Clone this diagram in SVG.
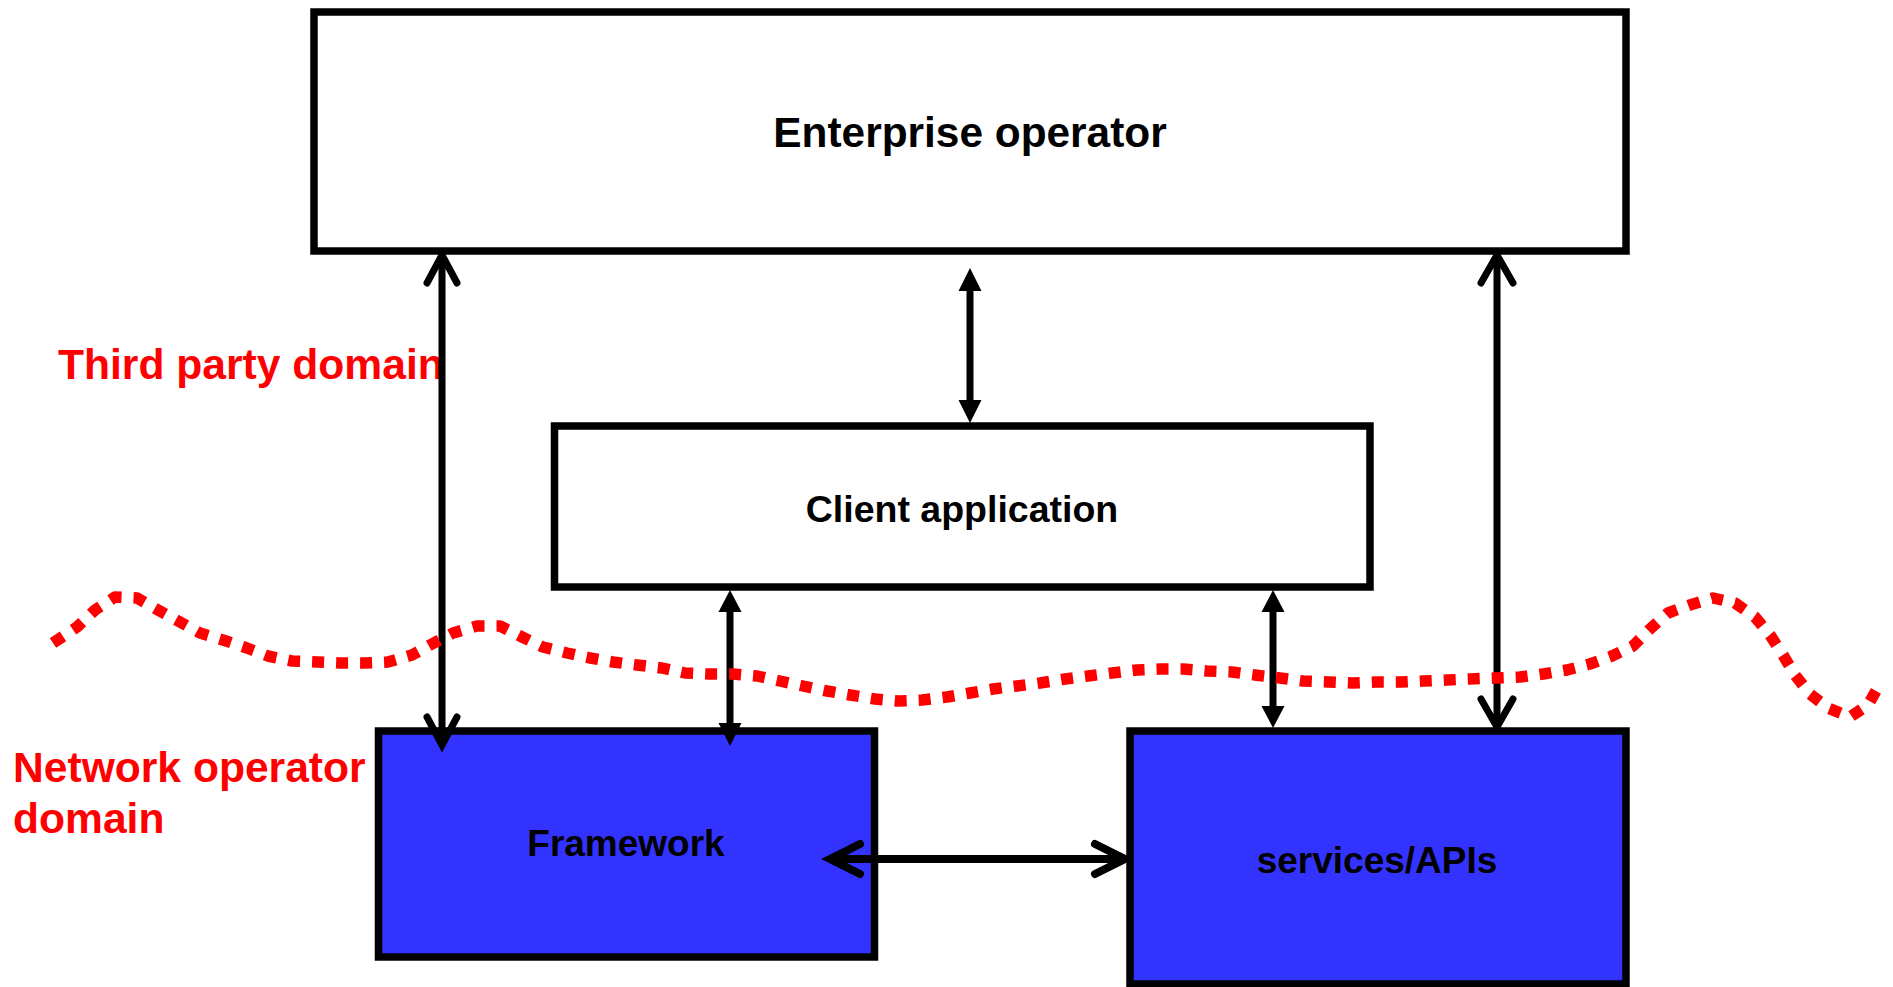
<svg xmlns="http://www.w3.org/2000/svg" width="1893" height="987" viewBox="0 0 1893 987">
<style>
.box{fill:#fff;stroke:#000;stroke-width:7.5}
.blue{fill:#3333FF;stroke:#000;stroke-width:7.5}
.lbl{font-family:"Liberation Sans",Arial,sans-serif;font-weight:bold;fill:#000;text-anchor:middle}
.red{font-family:"Liberation Sans",Arial,sans-serif;font-weight:bold;fill:#FF0000;font-size:42.6px}
.ln{stroke:#000;stroke-width:7;fill:none}
.open{stroke:#000;stroke-width:7;fill:none;stroke-linecap:round;stroke-linejoin:miter}
.tri{fill:#000;stroke:none}
.wave{fill:none;stroke:#FF0000;stroke-width:11.5;stroke-dasharray:12 12;stroke-linejoin:round}
</style>
<rect width="1893" height="987" fill="#fff"/>
<g id="enterprise">
<rect class="box" x="314" y="12" width="1312" height="239"/>
<text class="lbl" x="970" y="147" font-size="42.4">Enterprise operator</text>
</g>
<g id="client">
<rect class="box" x="554.5" y="426" width="815.5" height="161"/>
<text class="lbl" x="962" y="522" font-size="37.5">Client application</text>
</g>
<g id="framework">
<rect class="blue" x="378.5" y="731" width="496" height="226"/>
<text class="lbl" x="626" y="856" font-size="37">Framework</text>
</g>
<g id="services">
<rect class="blue" x="1130" y="731" width="496" height="253"/>
<text class="lbl" x="1377" y="873" font-size="37">services/APIs</text>
</g>
<g id="domain-labels">
<text class="red" x="58" y="379">Third party domain</text>
<text class="red" x="13" y="782">Network operator</text>
<text class="red" x="13" y="833">domain</text>
</g>
<g id="connectors">
<line class="ln" x1="442" y1="258" x2="442" y2="742"/>
<polyline class="open" points="427,283 442,255 457,283"/>
<polyline class="open" points="427,717 442,745 457,717"/>
<line class="ln" x1="1497" y1="258" x2="1497" y2="724"/>
<polyline class="open" points="1481,283 1497,255 1513,283"/>
<polyline class="open" points="1481,699 1497,727 1513,699"/>
<line class="ln" x1="970" y1="285" x2="970" y2="405"/>
<polygon class="tri" points="970,268 981.5,291 958.5,291"/>
<polygon class="tri" points="970,423 981.5,400 958.5,400"/>
<line class="ln" x1="730" y1="605" x2="730" y2="728"/>
<polygon class="tri" points="730,590 741.5,612 718.5,612"/>
<polygon class="tri" points="730,746 741.5,723 718.5,723"/>
<line class="ln" x1="1273" y1="605" x2="1273" y2="710"/>
<polygon class="tri" points="1273,590 1284.5,612 1261.5,612"/>
<polygon class="tri" points="1273,728 1284.5,706 1261.5,706"/>
<line class="ln" x1="832" y1="859" x2="1122" y2="859" style="stroke-width:8"/>
<polyline class="open" points="860,844 830,859 860,874" style="stroke-width:8"/>
<polyline class="open" points="1095,844 1125,859 1095,874" style="stroke-width:8"/>
</g>
<g id="boundary">
<polyline class="wave" points="53,643 77,627 95,610 115,597 137,598 158,610 180,622 200,633 223,640 247,648 268,656 292,661 317,662 340,663 363,663 388,662 412,655 432,644 453,633 477,626 500,626 522,637 543,647 567,653 590,658 613,662 637,665 662,668 685,673 708,674 733,674 757,676 780,681 803,686 827,691 850,695 875,699 898,701 922,700 947,697 970,693 993,689 1017,686 1040,683 1065,679 1088,676 1112,673 1137,670 1160,669 1183,669 1207,671 1232,672 1255,675 1280,678 1303,681 1328,682 1352,683 1375,682 1400,682 1423,681 1447,680 1470,679 1495,678 1520,677 1543,674 1567,670 1590,664 1612,656 1633,646 1650,629 1668,613 1690,605 1713,598 1735,603 1755,617 1770,635 1783,655 1795,675 1810,694 1828,708 1850,717 1868,705 1881,682"/>
</g>
</svg>
